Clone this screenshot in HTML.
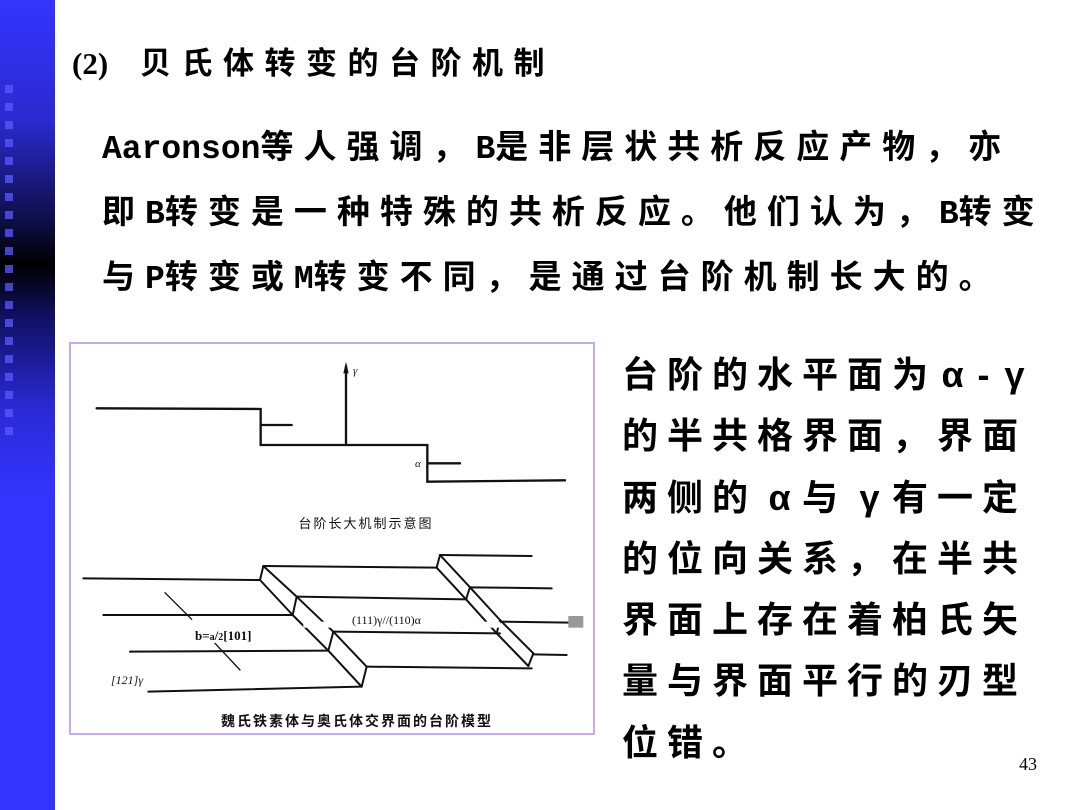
<!DOCTYPE html>
<html><head><meta charset="utf-8"><style>
body{margin:0;width:1080px;height:810px;background:#fff;position:relative;overflow:hidden;font-family:"Liberation Serif","Noto Serif CJK SC",serif;}
#bar{position:absolute;left:0;top:0;width:55px;height:810px;background:linear-gradient(#3434ff 0px,#2a2ad0 120px,#101050 215px,#000 265px,#101060 315px,#2a2ad8 410px,#3434ff 500px,#3434ff 810px);}
.sq{position:absolute;left:5px;width:8px;height:8px;background:rgba(90,90,255,0.75);}
.t{position:absolute;white-space:nowrap;color:#000;}
.cj{font-family:"Liberation Sans","Noto Sans CJK SC",sans-serif;font-weight:bold;}
.m{font-family:"Liberation Mono",monospace;letter-spacing:0;}
.g{display:inline-block;width:45px;text-align:center;letter-spacing:0;}
.h{display:inline-block;width:31px;text-align:center;letter-spacing:0;}
</style></head><body>
<div id="bar"></div>
<div class="sq" style="top:85px"></div><div class="sq" style="top:103px"></div><div class="sq" style="top:121px"></div><div class="sq" style="top:139px"></div><div class="sq" style="top:157px"></div><div class="sq" style="top:175px"></div><div class="sq" style="top:193px"></div><div class="sq" style="top:211px"></div><div class="sq" style="top:229px"></div><div class="sq" style="top:247px"></div><div class="sq" style="top:265px"></div><div class="sq" style="top:283px"></div><div class="sq" style="top:301px"></div><div class="sq" style="top:319px"></div><div class="sq" style="top:337px"></div><div class="sq" style="top:355px"></div><div class="sq" style="top:373px"></div><div class="sq" style="top:391px"></div><div class="sq" style="top:409px"></div><div class="sq" style="top:427px"></div>

<div class="t cj" style="left:72px;top:44px;font-size:31px;letter-spacing:10.5px;line-height:40px;"><span style="font-family:'Liberation Serif',serif;font-weight:bold;letter-spacing:0;display:inline-block;width:68px;">(2)</span>贝氏体转变的台阶机制</div>

<div class="t cj" style="left:102px;top:116px;font-size:33px;letter-spacing:10px;line-height:62px;"><span class="m">Aaronson</span>等人强调，<span class="m">B</span>是非层状共析反应产物，亦<br>即<span class="m">B</span>转变是一种特殊的共析反应。他们认为，<span class="m">B</span>转变<br>与<span class="m">P</span>转变或<span class="m">M</span>转变不同，是通过台阶机制长大的。</div>

<div class="t cj" style="left:622px;top:344px;font-size:36px;letter-spacing:9px;line-height:61.3px;">台阶的水平面为<span class="h">α</span><span class="h">-</span><span class="h">γ</span><br>的半共格界面，界面<br>两侧的<span class="g">α</span>与<span class="g">γ</span>有一定<br>的位向关系，在半共<br>界面上存在着柏氏矢<br>量与界面平行的刃型<br>位错。</div>

<div class="t" style="left:1019px;top:754px;font-size:18px;">43</div>

<div style="position:absolute;left:69px;top:342px;width:522px;height:389px;border:2px solid #c8a8f0;"></div>

<svg width="1080" height="810" style="position:absolute;left:0;top:0">
<g transform="translate(70,340) scale(0.33333)" fill="none" stroke="#111" stroke-width="7" stroke-linecap="round">
<polyline points="80,205 572,207 572,315 1072,315 1072,425 1485,421"/>
<line x1="828" y1="315" x2="828" y2="80"/>
<polygon points="828,65 820,100 836,100" fill="#111" stroke="none"/>
<line x1="572" y1="255" x2="665" y2="255"/>
<line x1="1075" y1="370" x2="1170" y2="370"/>
<g stroke-width="6">
<line x1="40" y1="715" x2="570" y2="720"/>
<line x1="570" y1="720" x2="580" y2="678"/>
<line x1="580" y1="678" x2="1100" y2="683"/>
<line x1="580" y1="678" x2="680" y2="770"/>
<line x1="570" y1="720" x2="668" y2="825"/>
<line x1="668" y1="825" x2="680" y2="770"/>
<line x1="680" y1="770" x2="1190" y2="778"/>
<line x1="100" y1="825" x2="668" y2="825"/>
<line x1="680" y1="770" x2="790" y2="875"/>
<line x1="668" y1="825" x2="775" y2="932"/>
<line x1="775" y1="932" x2="790" y2="875"/>
<line x1="790" y1="875" x2="1290" y2="880"/>
<line x1="180" y1="935" x2="775" y2="932"/>
<line x1="790" y1="875" x2="890" y2="980"/>
<line x1="775" y1="932" x2="875" y2="1040"/>
<line x1="875" y1="1040" x2="890" y2="980"/>
<line x1="890" y1="980" x2="1385" y2="985"/>
<line x1="235" y1="1055" x2="875" y2="1040"/>
<line x1="1100" y1="683" x2="1110" y2="645"/>
<line x1="1110" y1="645" x2="1385" y2="648"/>
<line x1="1110" y1="645" x2="1200" y2="742"/>
<line x1="1100" y1="683" x2="1188" y2="778"/>
<line x1="1188" y1="778" x2="1200" y2="742"/>
<line x1="1200" y1="742" x2="1445" y2="745"/>
<line x1="1200" y1="742" x2="1290" y2="840"/>
<line x1="1188" y1="778" x2="1280" y2="880"/>
<line x1="1280" y1="880" x2="1290" y2="840"/>
<line x1="1290" y1="845" x2="1500" y2="848"/>
<line x1="1290" y1="840" x2="1390" y2="940"/>
<line x1="1280" y1="880" x2="1375" y2="978"/>
<line x1="1375" y1="978" x2="1390" y2="940"/>
<line x1="1390" y1="943" x2="1490" y2="945"/>
<line x1="285" y1="758" x2="365" y2="838" stroke-width="4"/>
<line x1="435" y1="910" x2="510" y2="990" stroke-width="4"/>
</g>
<rect x="1495" y="828" width="45" height="35" fill="#999" stroke="none"/>
<rect x="700" y="845" width="590" height="18" fill="#fff" stroke="none"/>
</g>
<g font-family="Liberation Serif,serif" fill="#111">
<text x="353" y="374" font-size="11" font-style="italic">γ</text>
<text x="415" y="467" font-size="11" font-style="italic">α</text>
<text x="352" y="624" font-size="12">(111)γ//(110)α</text>
<text x="195" y="640" font-size="13" font-weight="bold">b=<tspan font-size="10">a</tspan>/<tspan font-size="10">2</tspan>[101]</text>
<text x="111" y="684" font-size="12" font-style="italic">[121]γ</text>
</g>
<g font-family="Liberation Sans,Noto Sans CJK SC,sans-serif" fill="#111" text-anchor="middle">
<text x="366" y="528" font-size="13" letter-spacing="2">台阶长大机制示意图</text>
<text x="357" y="726" font-size="14" font-weight="bold" letter-spacing="2">魏氏铁素体与奥氏体交界面的台阶模型</text>
</g>
</svg>
</body></html>
